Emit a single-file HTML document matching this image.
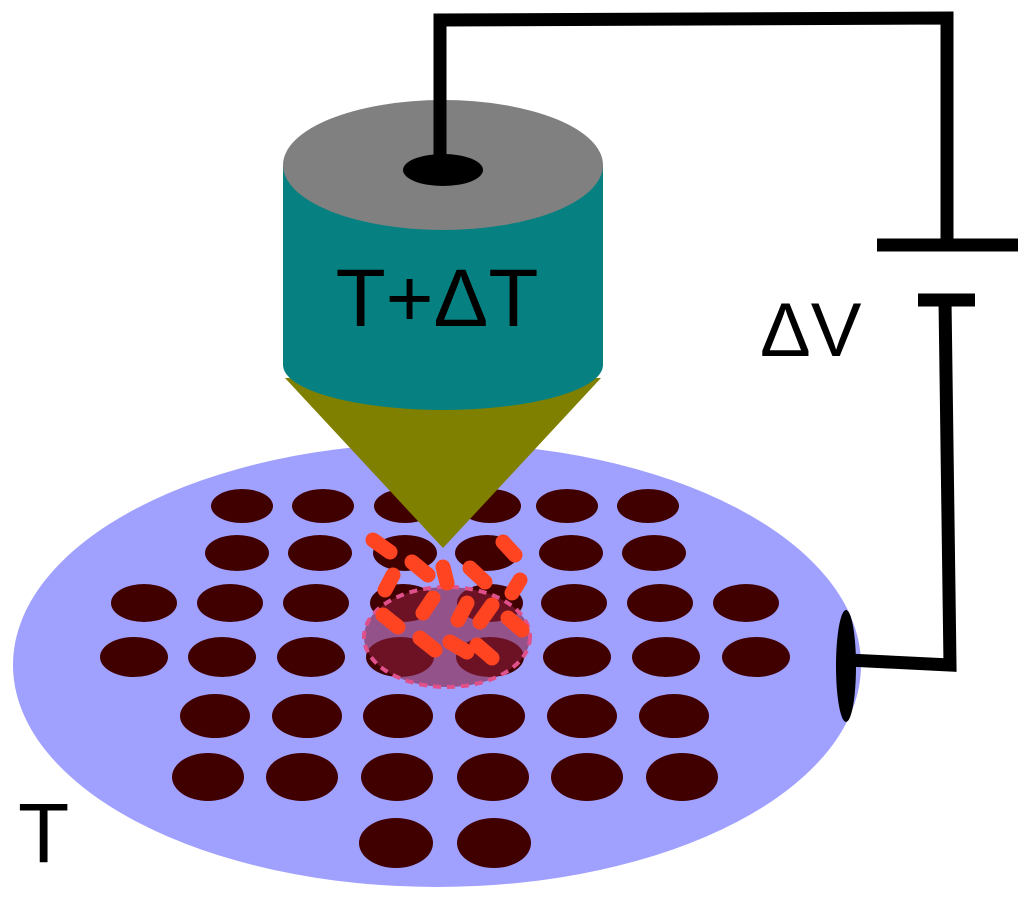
<!DOCTYPE html>
<html><head><meta charset="utf-8"><style>html,body{margin:0;padding:0;background:#fff}svg{display:block}</style></head><body>
<svg width="1024" height="900" viewBox="0 0 1024 900" xmlns="http://www.w3.org/2000/svg">
<ellipse cx="437" cy="665" rx="424" ry="222" fill="#a0a0ff"/>
<g fill="#400000">
<ellipse cx="242" cy="506" rx="31" ry="17"/><ellipse cx="323" cy="506" rx="31" ry="17"/><ellipse cx="405" cy="506" rx="31" ry="17"/><ellipse cx="490" cy="506" rx="31" ry="17"/><ellipse cx="567" cy="506" rx="31" ry="17"/><ellipse cx="648" cy="506" rx="31" ry="17"/>
<ellipse cx="237" cy="553" rx="32" ry="18"/><ellipse cx="320" cy="553" rx="32" ry="18"/><ellipse cx="405" cy="553" rx="32" ry="18"/><ellipse cx="487" cy="553" rx="32" ry="18"/><ellipse cx="571" cy="553" rx="32" ry="18"/><ellipse cx="654" cy="553" rx="32" ry="18"/>
<ellipse cx="144" cy="603" rx="33" ry="19"/><ellipse cx="230" cy="603" rx="33" ry="19"/><ellipse cx="316" cy="603" rx="33" ry="19"/><ellipse cx="403" cy="603" rx="33" ry="19"/><ellipse cx="490" cy="603" rx="33" ry="19"/><ellipse cx="574" cy="603" rx="33" ry="19"/><ellipse cx="660" cy="603" rx="33" ry="19"/><ellipse cx="746" cy="603" rx="33" ry="19"/>
<ellipse cx="134" cy="657" rx="34" ry="20"/><ellipse cx="222" cy="657" rx="34" ry="20"/><ellipse cx="311" cy="657" rx="34" ry="20"/><ellipse cx="400" cy="657" rx="34" ry="20"/><ellipse cx="490" cy="657" rx="34" ry="20"/><ellipse cx="577" cy="657" rx="34" ry="20"/><ellipse cx="666" cy="657" rx="34" ry="20"/><ellipse cx="756" cy="657" rx="34" ry="20"/>
<ellipse cx="215" cy="716" rx="35" ry="22"/><ellipse cx="307" cy="716" rx="35" ry="22"/><ellipse cx="398" cy="716" rx="35" ry="22"/><ellipse cx="490" cy="716" rx="35" ry="22"/><ellipse cx="582" cy="716" rx="35" ry="22"/><ellipse cx="674" cy="716" rx="35" ry="22"/>
<ellipse cx="208" cy="777" rx="36" ry="24"/><ellipse cx="302" cy="777" rx="36" ry="24"/><ellipse cx="397" cy="777" rx="36" ry="24"/><ellipse cx="493" cy="777" rx="36" ry="24"/><ellipse cx="587" cy="777" rx="36" ry="24"/><ellipse cx="682" cy="777" rx="36" ry="24"/>
<ellipse cx="396" cy="843" rx="37" ry="25"/><ellipse cx="494" cy="843" rx="37" ry="25"/>
</g>
<ellipse cx="447" cy="637" rx="83" ry="50" fill="rgba(140,30,60,0.6)" stroke="#e0508a" stroke-width="4" stroke-dasharray="8 6"/>
<g stroke="#ff4422" stroke-width="15" stroke-linecap="round">
<line x1="373" y1="540" x2="390" y2="552"/><line x1="412" y1="562" x2="428" y2="575"/><line x1="443" y1="567" x2="447" y2="583"/><line x1="470" y1="568" x2="485" y2="582"/><line x1="503" y1="542" x2="515" y2="555"/><line x1="393" y1="575" x2="385" y2="590"/><line x1="520" y1="580" x2="512" y2="593"/><line x1="433" y1="598" x2="423" y2="613"/><line x1="467" y1="603" x2="458" y2="620"/><line x1="492" y1="605" x2="480" y2="622"/><line x1="383" y1="615" x2="398" y2="627"/><line x1="508" y1="618" x2="522" y2="630"/><line x1="420" y1="638" x2="435" y2="650"/><line x1="450" y1="642" x2="467" y2="652"/><line x1="477" y1="645" x2="492" y2="658"/>
</g>
<polygon points="285,378 601,378 443,548" fill="#808000"/>
<path d="M283,165 L283,365 A160,45 0 0 0 603,365 L603,165 Z" fill="#068080"/>
<ellipse cx="443" cy="165" rx="160" ry="65" fill="#808080"/>
<text x="437" y="326" font-family="Liberation Sans, DejaVu Sans, sans-serif" font-size="82" text-anchor="middle" fill="#000">T+ΔT</text>
<g fill="none" stroke="#000" stroke-width="13">
<polyline points="440,168 440,20 947,18 947,245"/>
<polyline points="945,300 950,665 848,660"/>
<line x1="877" y1="245" x2="1018" y2="245"/>
<line x1="918" y1="300" x2="975" y2="300"/>
</g>
<ellipse cx="443" cy="170" rx="40" ry="16" fill="#000"/>
<ellipse cx="846" cy="666" rx="10" ry="56" fill="#000"/>
<text x="760" y="356" font-family="Liberation Sans, DejaVu Sans, sans-serif" font-size="76" fill="#000">ΔV</text>
<text x="18" y="862" font-family="Liberation Sans, DejaVu Sans, sans-serif" font-size="84" fill="#000">T</text>
</svg>
</body></html>
